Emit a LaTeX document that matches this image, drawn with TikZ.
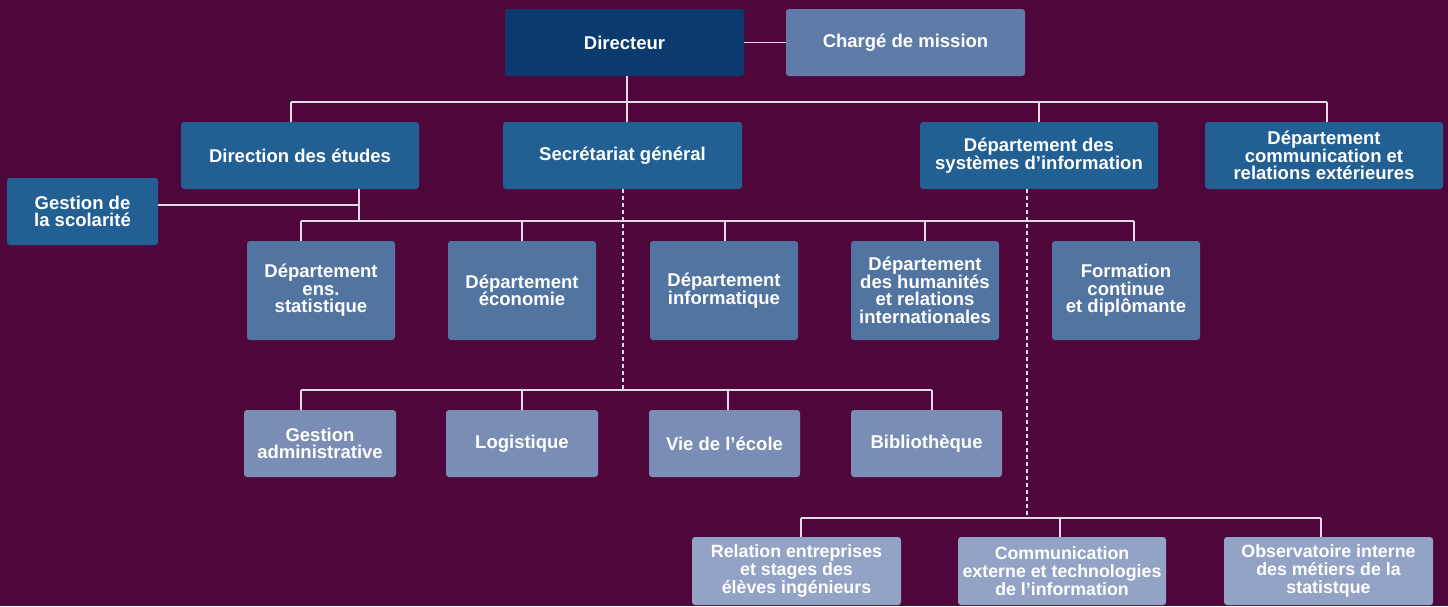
\documentclass[tikz,border=0pt]{standalone}
\usepackage{fontspec}
\setmainfont{Liberation Sans}
\definecolor{bg}{HTML}{4F073B}
\definecolor{cdir}{HTML}{0B3A6E}
\definecolor{ccm}{HTML}{5F7BA7}
\definecolor{clv}{HTML}{226093}
\definecolor{cdep}{HTML}{5274A0}
\definecolor{csec}{HTML}{7A8DB4}
\definecolor{cbot}{HTML}{93A3C6}
\definecolor{cln}{HTML}{E2DAE8}
\tikzset{
  box/.style={rounded corners=3pt, inner sep=0pt, align=center, text=white,
    font=\bfseries\fontsize{18.5}{17.5}\selectfont},
  bdir/.style={box, fill=cdir},
  bcm/.style={box, fill=ccm},
  blv/.style={box, fill=clv},
  bdep/.style={box, fill=cdep},
  bsec/.style={box, fill=csec},
  bbot/.style={box, fill=cbot, font=\bfseries\fontsize{17.8}{17.8}\selectfont},
  ln/.style={draw=cln, line width=1.3pt},
  dln/.style={draw=cln, line width=1.3pt, dash pattern=on 4pt off 3pt},
}
\begin{document}
\begin{tikzpicture}[x=1pt,y=-1pt]
\fill[bg] (0,0) rectangle (1448,606);
\useasboundingbox (0,0) rectangle (1448,606);
% nodes
\node[bdir, minimum width=239pt, minimum height=67pt] (dir) at (624.5,42.5) {Directeur};
\node[bcm, minimum width=239pt, minimum height=67pt] (cm) at (905.5,42.5) {Chargé de mission};
\node[blv, minimum width=238pt, minimum height=67pt] (de) at (300,155.5) {Direction des études};
\node[blv, minimum width=239pt, minimum height=67pt] (sg) at (622.5,155.5) {Secrétariat général};
\node[blv, minimum width=238pt, minimum height=67pt] (si) at (1039,155.5) {Département des\\systèmes d’information};
\node[blv, minimum width=238pt, minimum height=67pt] (dc) at (1324,155.5) {Département\\communication et\\relations extérieures};
\node[blv, minimum width=151pt, minimum height=67pt] (gs) at (82.5,211.5) {Gestion de\\la scolarité};
\node[bdep, minimum width=148pt, minimum height=99pt] (d1) at (321,290.5) {Département\\ens.\\statistique};
\node[bdep, minimum width=148pt, minimum height=99pt] (d2) at (522,290.5) {Département\\économie};
\node[bdep, minimum width=148pt, minimum height=99pt] (d3) at (724,290.5) {Département\\informatique};
\node[bdep, minimum width=148pt, minimum height=99pt] (d4) at (925,290.5) {Département\\des humanités\\et relations\\internationales};
\node[bdep, minimum width=148pt, minimum height=99pt] (d5) at (1126,290.5) {Formation\\continue\\et diplômante};
\node[bsec, minimum width=152pt, minimum height=67pt] (s1) at (320,443.5) {Gestion\\administrative};
\node[bsec, minimum width=152pt, minimum height=67pt] (s2) at (522,443.5) {Logistique};
\node[bsec, minimum width=151pt, minimum height=67pt] (s3) at (724.5,443.5) {Vie de l’école};
\node[bsec, minimum width=151pt, minimum height=67pt] (s4) at (926.5,443.5) {Bibliothèque};
\node[bbot, minimum width=209pt, minimum height=68pt] (b1) at (796.5,571) {Relation entreprises\\et stages des\\élèves ingénieurs};
\node[bbot, minimum width=208pt, minimum height=68pt] (b2) at (1062,571) {Communication\\externe et technologies\\de l’information};
\node[bbot, minimum width=209pt, minimum height=68pt] (b3) at (1328.5,571) {Observatoire interne\\des métiers de la\\statistque};
% top level
\draw[ln] (dir) -- (cm);
\coordinate (t0) at (627,102);
\coordinate (t1) at (291,102);
\coordinate (t3) at (1039,102);
\coordinate (t4) at (1327,102);
\draw[ln] (t1) -- (t4);
\draw[ln] (dir.south -| t0) -- (sg.north -| t0);
\draw[ln] (t1) -- (t1 |- de.north);
\draw[ln] (t3) -- (t3 |- si.north);
\draw[ln] (t4) -- (t4 |- dc.north);
% direction des etudes
\coordinate (u0) at (359,221);
\coordinate (g0) at (158,205);
\coordinate (g1) at (359,205);
\draw[ln] (de.south -| u0) -- (u0);
\draw[ln] (g0) -- (g1);
\coordinate (m1) at (301,221);
\coordinate (m2) at (522,221);
\coordinate (m3) at (725,221);
\coordinate (m4) at (925,221);
\coordinate (m5) at (1134,221);
\draw[ln] (m1) -- (m5);
\draw[ln] (m1) -- (m1 |- d1.north);
\draw[ln] (m2) -- (m2 |- d2.north);
\draw[ln] (m3) -- (m3 |- d3.north);
\draw[ln] (m4) -- (m4 |- d4.north);
\draw[ln] (m5) -- (m5 |- d5.north);
% secretariat
\coordinate (n0) at (623,390);
\coordinate (n1) at (301,390);
\coordinate (n2) at (522,390);
\coordinate (n3) at (728,390);
\coordinate (n4) at (932,390);
\draw[dln] (sg.south -| n0) -- (n0);
\draw[ln] (n1) -- (n4);
\draw[ln] (n1) -- (n1 |- s1.north);
\draw[ln] (n2) -- (n2 |- s2.north);
\draw[ln] (n3) -- (n3 |- s3.north);
\draw[ln] (n4) -- (n4 |- s4.north);
% systemes d'information
\coordinate (r0) at (1027,518);
\coordinate (r1) at (801,518);
\coordinate (r2) at (1060,518);
\coordinate (r3) at (1321,518);
\draw[dln] (si.south -| r0) -- (r0);
\draw[ln] (r1) -- (r3);
\draw[ln] (r1) -- (r1 |- b1.north);
\draw[ln] (r2) -- (r2 |- b2.north);
\draw[ln] (r3) -- (r3 |- b3.north);
\end{tikzpicture}
\end{document}
